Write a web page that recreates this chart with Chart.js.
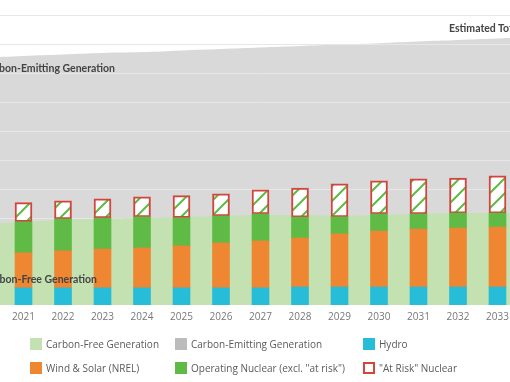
<!DOCTYPE html>
<html>
<head>
<meta charset="utf-8">
<script src="https://cdn.jsdelivr.net/npm/chart.js@4.4.1/dist/chart.umd.min.js"></script>
<style>
  html, body { margin: 0; padding: 0; }
  body { width: 510px; height: 382px; overflow: hidden; position: relative; background: #fff; font-family: 'Open Sans', sans-serif; }
  #wrap { position: absolute; left: -22px; top: 0; width: 565px; height: 329px; }
  .note { position: absolute; font-family: Lato, sans-serif; font-weight: 700; font-size: 10.5px; line-height: 12px; color: #444; white-space: nowrap; }
  .item { position: absolute; height: 12px; display: flex; align-items: center; font-size: 10px; color: #5a5a5a; white-space: nowrap; }
  .sw { width: 12px; height: 12px; margin-right: 4px; box-sizing: border-box; }
</style>
</head>
<body>
<div id="wrap"><canvas id="chart"></canvas></div>

<div class="note" style="left:449px; top:22px;">Estimated Total Generation</div>
<div class="note" style="right:395px; top:62px;">Carbon-Emitting Generation</div>
<div class="note" style="right:413px; top:273px;">Carbon-Free Generation</div>

<div id="legend"></div>

<script>
// years (first and last only carry the background areas past the edges)
var years = ['2020', '2021', '2022', '2023', '2024', '2025', '2026', '2027', '2028', '2029', '2030', '2031', '2032', '2033', '2034']

// stacked bars
var hydro     = [null, 59, 59, 59, 59, 59, 59, 59, 62, 62, 62, 62, 62, 62, null]
var windSolar = [null, 121, 128, 134, 138, 145, 155, 162, 169, 183, 193, 200, 203, 207, null]
var nuclear   = [null, 107, 110, 107, 107, 97, 93, 93, 72, 59, 59, 52, 52, 48, null]
var atRisk    = [null, 66, 62, 66, 69, 76, 76, 83, 100, 114, 114, 121, 121, 128, null]

// background areas
var carbonFree = [279, 286, 293, 297, 300, 303, 307, 310, 310, 307, 310, 314, 317, 317, 321]
var totalGen   = [853, 859, 864, 869, 872, 878, 883, 888, 893, 898, 903, 909, 914, 919, 924]

var colors = {
  hydro: '#27bcd8',
  wind: '#ee8632',
  nuclear: '#5fba46',
  risk: '#d2443c',
  free: '#c4e1b2',
  emit: '#d9d9d9'
}

var legendItems = [
  ['Carbon-Free Generation', colors.free, null],
  ['Carbon-Emitting Generation', '#bcbcbc', null],
  ['Hydro', colors.hydro, null],
  ['Wind & Solar (NREL)', colors.wind, null],
  ['Operating Nuclear (excl. "at risk")', colors.nuclear, null],
  ['"At Risk" Nuclear', '#fff', colors.risk]
]

function stripes() {
  let c = document.createElement('canvas')
  c.width = 15
  c.height = 15
  let g = c.getContext('2d')
  g.fillStyle = '#fff'
  g.fillRect(0, 0, 15, 15)
  g.strokeStyle = colors.nuclear
  g.lineWidth = 2
  g.beginPath()
  g.moveTo(-2, 17); g.lineTo(17, -2)
  g.moveTo(-2, 2); g.lineTo(2, -2)
  g.moveTo(13, 17); g.lineTo(17, 13)
  g.stroke()
  return g.createPattern(c, 'repeat')
}

// gridlines go over the grey area but under the green one
const gridBehind = {
  id: 'gridBehind',
  afterDatasetDraw(chart, args) {
    if (args.index !== 5) return
    let y = chart.scales.y
    let a = chart.chartArea
    let ctx = chart.ctx
    ctx.save()
    ctx.strokeStyle = '#e7e7e7'
    ctx.lineWidth = 1
    y.ticks.forEach(t => {
      if (t.value === 0) return
      let py = Math.round(y.getPixelForValue(t.value)) + 0.5
      ctx.beginPath()
      ctx.moveTo(a.left, py)
      ctx.lineTo(a.right, py)
      ctx.stroke()
    })
    ctx.restore()
  }
}

function bar(label, data, bg, extra = {}) {
  return Object.assign({
    type: 'bar',
    label: label,
    data: data,
    backgroundColor: bg,
    borderWidth: 0,
    barThickness: 17,
    stack: 'gen',
    order: 0
  }, extra)
}

function area(label, data, bg, stack, order) {
  return {
    type: 'line',
    label: label,
    data: data,
    backgroundColor: bg,
    borderWidth: 0,
    pointRadius: 0,
    fill: 'origin',
    tension: 0.4,
    stack: stack,
    order: order
  }
}

function drawLegend() {
  let box = document.getElementById('legend')
  let cols = [30, 175, 363]
  let rows = [338, 362]
  legendItems.forEach((it, i) => {
    let d = document.createElement('div')
    d.className = 'item'
    d.style.left = cols[i % 3] + 'px'
    d.style.top = rows[Math.floor(i / 3)] + 'px'
    let sw = document.createElement('span')
    sw.className = 'sw'
    sw.style.background = it[1]
    if (it[2]) sw.style.border = '2px solid ' + it[2]
    d.appendChild(sw)
    let tx = document.createElement('span')
    tx.textContent = it[0]
    d.appendChild(tx)
    box.appendChild(d)
  })
}

function main() {
  Chart.defaults.font.family = "'Open Sans', sans-serif"
  let ctx = document.getElementById('chart')
  new Chart(ctx, {
    type: 'bar',
    data: {
      labels: years,
      datasets: [
        bar('Hydro', hydro, colors.hydro),
        bar('Wind & Solar (NREL)', windSolar, colors.wind),
        bar('Operating Nuclear (excl. "at risk")', nuclear, colors.nuclear),
        bar('"At Risk" Nuclear', atRisk, stripes(), { borderColor: colors.risk, borderWidth: 2, borderSkipped: false }),
        area('Carbon-Free Generation', carbonFree, colors.free, 'free', 1),
        area('Carbon-Emitting Generation', totalGen, colors.emit, 'total', 2)
      ]
    },
    options: {
      responsive: true,
      maintainAspectRatio: false,
      animation: false,
      layout: { padding: { top: 15, left: 0, right: 0, bottom: 0 } },
      plugins: { legend: { display: false }, tooltip: { enabled: false } },
      scales: {
        x: {
          stacked: true,
          offset: false,
          grid: { display: false, drawTicks: false },
          border: { display: false },
          ticks: {
            autoSkip: false,
            maxRotation: 0,
            padding: 6,
            color: '#777',
            font: { size: 10 },
            callback: function (v, i) {
              return (i === 0 || i === years.length - 1) ? '' : years[i]
            }
          }
        },
        y: {
          display: false,
          stacked: true,
          min: 0,
          max: 1000,
          ticks: { stepSize: 100 }
        }
      }
    },
    plugins: [gridBehind]
  })
  drawLegend()
}

main()
</script>
</body>
</html>
